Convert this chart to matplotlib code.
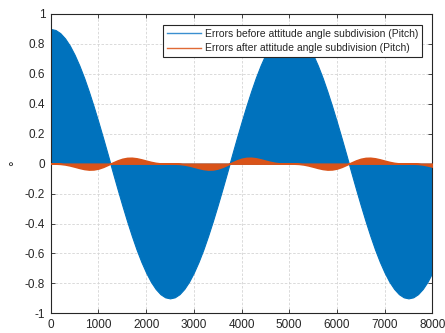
import matplotlib
matplotlib.use("Agg")
import matplotlib.pyplot as plt
from matplotlib.ticker import FixedLocator, FixedFormatter

plt.rcParams['font.family'] = ['Liberation Sans', 'DejaVu Sans']
plt.rcParams['axes.unicode_minus'] = False

# Sample index (x axis)
samples = list(range(0, 8001, 100))

# Envelope of the pitch error before subdivision (deg)
err_before = [0.900, 0.893, 0.872, 0.837, 0.789, 0.728, 0.656, 0.574, 0.482, 0.383,
              0.278, 0.169, 0.057, -0.057, -0.169, -0.278, -0.383, -0.482, -0.574, -0.656,
              -0.728, -0.789, -0.837, -0.872, -0.893, -0.900, -0.893, -0.872, -0.837, -0.789,
              -0.728, -0.656, -0.574, -0.482, -0.383, -0.278, -0.169, -0.057, 0.057, 0.169,
              0.278, 0.383, 0.482, 0.574, 0.656, 0.728, 0.789, 0.837, 0.872, 0.893,
              0.900, 0.893, 0.872, 0.837, 0.789, 0.728, 0.656, 0.574, 0.482, 0.383,
              0.278, 0.169, 0.057, -0.057, -0.169, -0.278, -0.383, -0.482, -0.574, -0.656,
              -0.728, -0.789, -0.837, -0.872, -0.893, -0.900, -0.893, -0.872, -0.837, -0.789,
              -0.728]

# Envelope of the pitch error after subdivision (deg)
err_after = [0.0, -0.0002, -0.0018, -0.0057, -0.0121, -0.0202, -0.0288, -0.0359, -0.0397, -0.0388,
             -0.0327, -0.0218, -0.0077, 0.0077, 0.0218, 0.0327, 0.0388, 0.0397, 0.0359, 0.0288,
             0.0202, 0.0121, 0.0057, 0.0018, 0.0002,
             0.0, -0.0002, -0.0018, -0.0057, -0.0121, -0.0202, -0.0288, -0.0359, -0.0397, -0.0388,
             -0.0327, -0.0218, -0.0077, 0.0077, 0.0218, 0.0327, 0.0388, 0.0397, 0.0359, 0.0288,
             0.0202, 0.0121, 0.0057, 0.0018, 0.0002,
             0.0, -0.0002, -0.0018, -0.0057, -0.0121, -0.0202, -0.0288, -0.0359, -0.0397, -0.0388,
             -0.0327, -0.0218, -0.0077, 0.0077, 0.0218, 0.0327, 0.0388, 0.0397, 0.0359, 0.0288,
             0.0202, 0.0121, 0.0057, 0.0018, 0.0002,
             0.0, -0.0002, -0.0018, -0.0057, -0.0121, -0.0202]

x_ticks = [0, 1000, 2000, 3000, 4000, 5000, 6000, 7000, 8000]
x_labels = ['0', '1000', '2000', '3000', '4000', '5000', '6000', '7000', '8000']
y_ticks = [-1, -0.8, -0.6, -0.4, -0.2, 0, 0.2, 0.4, 0.6, 0.8, 1]
y_labels = ['-1', '-0.8', '-0.6', '-0.4', '-0.2', '0', '0.2', '0.4', '0.6', '0.8', '1']

legend_labels = ['Errors before attitude angle subdivision (Pitch)',
                 'Errors after attitude angle subdivision (Pitch)']

blue = '#0072BD'
orange = '#D95319'
axis_col = '#262626'

fig = plt.figure(figsize=(4.45, 3.33), dpi=100)
ax = fig.add_axes([0.114, 0.059, 0.8575, 0.899])

ax.fill_between(samples, 0, err_before, color=blue, edgecolor=blue, linewidth=0.8, zorder=2)
ax.fill_between(samples, 0, err_after, color=orange, edgecolor=orange, linewidth=1.1, zorder=3)

h1, = ax.plot([], [], color='#3a8fd0', linewidth=1.0)
h2, = ax.plot([], [], color='#e06a35', linewidth=1.0)

ax.set_xlim(0, 8000)
ax.set_ylim(-1, 1)
ax.xaxis.set_major_locator(FixedLocator(x_ticks))
ax.xaxis.set_major_formatter(FixedFormatter(x_labels))
ax.yaxis.set_major_locator(FixedLocator(y_ticks))
ax.yaxis.set_major_formatter(FixedFormatter(y_labels))

ax.set_axisbelow(True)
ax.grid(True, color='#d4d4d4', linestyle=(0, (3, 2)), linewidth=0.6)

for sp in ax.spines.values():
    sp.set_color(axis_col)
    sp.set_linewidth(0.8)

ax.tick_params(direction='in', length=3, width=0.6, color=axis_col,
               labelsize=8.5, labelcolor=axis_col, top=True, right=True, pad=4)

ax.set_ylabel('°', fontsize=10, color=axis_col, rotation=90, labelpad=2)

leg = ax.legend([h1, h2], legend_labels, loc='upper right',
                bbox_to_anchor=(0.972, 0.963), fontsize=7.5, frameon=True,
                fancybox=False, borderpad=0.35, handlelength=3.3, handletextpad=0.35,
                labelspacing=0.45, borderaxespad=0.0)
leg.get_frame().set_edgecolor(axis_col)
leg.get_frame().set_linewidth(0.8)
leg.get_frame().set_alpha(1.0)
for t in leg.get_texts():
    t.set_color(axis_col)

fig.savefig('out.png', dpi=100)
